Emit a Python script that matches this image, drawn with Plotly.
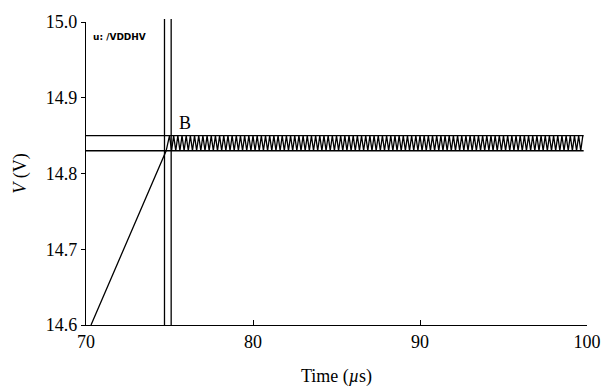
import plotly.graph_objects as go

# Ramp up to point B
ramp_t = [70.3, 74.8]
ramp_v = [14.60, 14.83]

# Oscillation between the two limits after B (period about 0.25 us)
osc_t = [
    75.0, 75.125, 75.25, 75.375, 75.5, 75.625, 75.75, 75.875,
    76.0, 76.125, 76.25, 76.375, 76.5, 76.625, 76.75, 76.875,
    77.0, 77.125, 77.25, 77.375, 77.5, 77.625, 77.75, 77.875,
    78.0, 78.125, 78.25, 78.375, 78.5, 78.625, 78.75, 78.875,
    79.0, 79.125, 79.25, 79.375, 79.5, 79.625, 79.75, 79.875,
    80.0, 80.125, 80.25, 80.375, 80.5, 80.625, 80.75, 80.875,
    81.0, 81.125, 81.25, 81.375, 81.5, 81.625, 81.75, 81.875,
    82.0, 82.125, 82.25, 82.375, 82.5, 82.625, 82.75, 82.875,
    83.0, 83.125, 83.25, 83.375, 83.5, 83.625, 83.75, 83.875,
    84.0, 84.125, 84.25, 84.375, 84.5, 84.625, 84.75, 84.875,
    85.0, 85.125, 85.25, 85.375, 85.5, 85.625, 85.75, 85.875,
    86.0, 86.125, 86.25, 86.375, 86.5, 86.625, 86.75, 86.875,
    87.0, 87.125, 87.25, 87.375, 87.5, 87.625, 87.75, 87.875,
    88.0, 88.125, 88.25, 88.375, 88.5, 88.625, 88.75, 88.875,
    89.0, 89.125, 89.25, 89.375, 89.5, 89.625, 89.75, 89.875,
    90.0, 90.125, 90.25, 90.375, 90.5, 90.625, 90.75, 90.875,
    91.0, 91.125, 91.25, 91.375, 91.5, 91.625, 91.75, 91.875,
    92.0, 92.125, 92.25, 92.375, 92.5, 92.625, 92.75, 92.875,
    93.0, 93.125, 93.25, 93.375, 93.5, 93.625, 93.75, 93.875,
    94.0, 94.125, 94.25, 94.375, 94.5, 94.625, 94.75, 94.875,
    95.0, 95.125, 95.25, 95.375, 95.5, 95.625, 95.75, 95.875,
    96.0, 96.125, 96.25, 96.375, 96.5, 96.625, 96.75, 96.875,
    97.0, 97.125, 97.25, 97.375, 97.5, 97.625, 97.75, 97.875,
    98.0, 98.125, 98.25, 98.375, 98.5, 98.625, 98.75, 98.875,
    99.0, 99.125, 99.25, 99.375, 99.5, 99.625, 99.75,
]
osc_v = [
    14.85, 14.83, 14.85, 14.83, 14.85, 14.83, 14.85, 14.83,
    14.85, 14.83, 14.85, 14.83, 14.85, 14.83, 14.85, 14.83,
    14.85, 14.83, 14.85, 14.83, 14.85, 14.83, 14.85, 14.83,
    14.85, 14.83, 14.85, 14.83, 14.85, 14.83, 14.85, 14.83,
    14.85, 14.83, 14.85, 14.83, 14.85, 14.83, 14.85, 14.83,
    14.85, 14.83, 14.85, 14.83, 14.85, 14.83, 14.85, 14.83,
    14.85, 14.83, 14.85, 14.83, 14.85, 14.83, 14.85, 14.83,
    14.85, 14.83, 14.85, 14.83, 14.85, 14.83, 14.85, 14.83,
    14.85, 14.83, 14.85, 14.83, 14.85, 14.83, 14.85, 14.83,
    14.85, 14.83, 14.85, 14.83, 14.85, 14.83, 14.85, 14.83,
    14.85, 14.83, 14.85, 14.83, 14.85, 14.83, 14.85, 14.83,
    14.85, 14.83, 14.85, 14.83, 14.85, 14.83, 14.85, 14.83,
    14.85, 14.83, 14.85, 14.83, 14.85, 14.83, 14.85, 14.83,
    14.85, 14.83, 14.85, 14.83, 14.85, 14.83, 14.85, 14.83,
    14.85, 14.83, 14.85, 14.83, 14.85, 14.83, 14.85, 14.83,
    14.85, 14.83, 14.85, 14.83, 14.85, 14.83, 14.85, 14.83,
    14.85, 14.83, 14.85, 14.83, 14.85, 14.83, 14.85, 14.83,
    14.85, 14.83, 14.85, 14.83, 14.85, 14.83, 14.85, 14.83,
    14.85, 14.83, 14.85, 14.83, 14.85, 14.83, 14.85, 14.83,
    14.85, 14.83, 14.85, 14.83, 14.85, 14.83, 14.85, 14.83,
    14.85, 14.83, 14.85, 14.83, 14.85, 14.83, 14.85, 14.83,
    14.85, 14.83, 14.85, 14.83, 14.85, 14.83, 14.85, 14.83,
    14.85, 14.83, 14.85, 14.83, 14.85, 14.83, 14.85, 14.83,
    14.85, 14.83, 14.85, 14.83, 14.85, 14.83, 14.85, 14.83,
    14.85, 14.83, 14.85, 14.83, 14.85, 14.83, 14.85,
]

# Reference lines
h_levels = [14.85, 14.83]
h_span = [70.0, 99.8]
v_positions = [74.7, 75.1]

x_ticks = [70, 80, 90, 100]
y_ticks = [14.6, 14.7, 14.8, 14.9, 15.0]
y_tick_text = ["14.6", "14.7", "14.8", "14.9", "15.0"]

font_serif = "Liberation Serif"
tick_font = dict(family=font_serif, size=18, color="black")

fig = go.Figure()
fig.add_trace(go.Scatter(x=ramp_t + osc_t, y=ramp_v + osc_v, mode="lines",
                         line=dict(color="black", width=1.3), showlegend=False))

for lv in h_levels:
    fig.add_trace(go.Scatter(x=h_span, y=[lv, lv], mode="lines",
                             line=dict(color="black", width=1.3), showlegend=False))
for vp in v_positions:
    fig.add_shape(type="line", xref="x", yref="paper", x0=vp, x1=vp, y0=0, y1=1.01,
                  line=dict(color="black", width=1.3))

fig.add_annotation(x=75.45, y=14.851, text="B", showarrow=False, xanchor="left", yanchor="bottom",
                   font=dict(family=font_serif, size=18, color="black"))
fig.add_annotation(x=70.3, y=14.98, text="<b>u: /VDDHV</b>", showarrow=False, xanchor="left", yanchor="middle",
                   font=dict(family="DejaVu Sans", size=9, color="black"))

fig.update_layout(
    template="none",
    width=601, height=389,
    margin=dict(l=86, r=14, t=22, b=64, autoexpand=False),
    plot_bgcolor="white", paper_bgcolor="white",
    font=dict(family=font_serif, size=18, color="black"),
    xaxis=dict(range=[70, 100], tickvals=x_ticks, ticks="inside", ticklen=5, tickcolor="black",
               tickfont=tick_font, tickwidth=1.3,
               showline=True, linecolor="black", linewidth=1.3, showgrid=False, zeroline=False,
               automargin=False,
               title=dict(text="Time (<i>µ</i>s)", standoff=18, font=tick_font)),
    yaxis=dict(range=[14.6, 15.0], tickvals=y_ticks, ticktext=y_tick_text, ticks="outside", ticklen=4,
               tickfont=tick_font, tickwidth=1.3,
               tickcolor="black", showline=True, linecolor="black", linewidth=1.3, showgrid=False,
               zeroline=False, automargin=False,
               title=dict(text="<i>V</i> (V)", standoff=14, font=tick_font)),
)

fig.write_html("out.html")
